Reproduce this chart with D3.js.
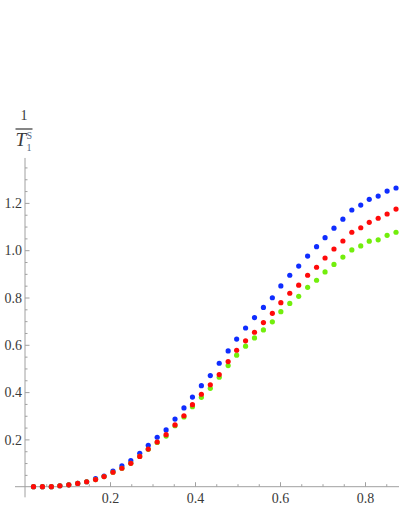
<!DOCTYPE html>
<html>
<head>
<meta charset="utf-8">
<script src="https://cdn.jsdelivr.net/npm/d3@7/dist/d3.min.js"></script>
<style>
  body { margin: 0; background: #fff; }
  svg { display: block; }
</style>
</head>
<body>
<svg id="chart" width="399" height="516"></svg>
<script>
// sample positions along the x axis
var xs = [0.020, 0.041, 0.062, 0.082, 0.103, 0.124, 0.145, 0.166, 0.186, 0.207,
          0.228, 0.249, 0.270, 0.290, 0.311, 0.332, 0.353, 0.374, 0.394, 0.415,
          0.436, 0.457, 0.478, 0.498, 0.519, 0.540, 0.561, 0.582, 0.602, 0.623,
          0.644, 0.665, 0.686, 0.706, 0.727, 0.748, 0.769, 0.790, 0.810, 0.831,
          0.852, 0.873];

var blueVals = [0, 0, 0, 0.004, 0.008, 0.014, 0.021, 0.034, 0.045, 0.066,
                0.088, 0.110, 0.141, 0.175, 0.209, 0.240, 0.286, 0.333, 0.379, 0.427,
                0.470, 0.522, 0.574, 0.624, 0.671, 0.715, 0.758, 0.799, 0.849, 0.894,
                0.933, 0.975, 1.015, 1.053, 1.093, 1.131, 1.170, 1.191, 1.215, 1.229,
                1.250, 1.263];

var greenVals = [0, 0, 0, 0.004, 0.008, 0.014, 0.021, 0.030, 0.043, 0.061,
                 0.078, 0.099, 0.128, 0.158, 0.187, 0.214, 0.258, 0.295, 0.338, 0.378,
                 0.416, 0.463, 0.512, 0.556, 0.594, 0.629, 0.663, 0.697, 0.740, 0.775,
                 0.805, 0.843, 0.873, 0.908, 0.940, 0.971, 1.001, 1.018, 1.038, 1.044,
                 1.063, 1.076];

var redVals = [0, 0, 0, 0.004, 0.008, 0.014, 0.021, 0.030, 0.043, 0.061,
               0.078, 0.099, 0.128, 0.159, 0.189, 0.220, 0.261, 0.300, 0.347, 0.391,
               0.431, 0.474, 0.529, 0.577, 0.617, 0.653, 0.694, 0.733, 0.778, 0.818,
               0.852, 0.894, 0.928, 0.967, 1.005, 1.039, 1.076, 1.095, 1.118, 1.135,
               1.153, 1.174];

var xMajor = [0.2, 0.4, 0.6, 0.8];
var xMinor = [0.05, 0.1, 0.15, 0.25, 0.3, 0.35, 0.45, 0.5, 0.55, 0.65, 0.7, 0.75, 0.85];
var yMajor = [0.2, 0.4, 0.6, 0.8, 1.0, 1.2];
var yMinor = [0.05, 0.1, 0.15, 0.25, 0.3, 0.35, 0.45, 0.5, 0.55, 0.65, 0.7, 0.75,
              0.85, 0.9, 0.95, 1.05, 1.1, 1.15, 1.25, 1.3, 1.35];

var svg = d3.select("#chart");

var x = d3.scaleLinear().domain([0, 1]).range([25, 450]);
var y = d3.scaleLinear().domain([0, 1]).range([486.7, 250.2]);

var axisColour = "#a0a0a0";
var textColour = "#3a3a3a";
var font = "'Liberation Serif', 'DejaVu Serif'";

// axis lines
svg.append("line")
  .attr("x1", x(-0.0235)).attr("x2", x(0.885))
  .attr("y1", y(0)).attr("y2", y(0))
  .attr("stroke", axisColour).attr("stroke-width", 1);
svg.append("line")
  .attr("x1", x(0)).attr("x2", x(0))
  .attr("y1", y(-0.045)).attr("y2", y(1.39))
  .attr("stroke", axisColour).attr("stroke-width", 1);

var styleAxis = function(g){
  g.attr("font-family", font);
  g.select(".domain").remove();
  g.selectAll("line").attr("stroke", axisColour);
  g.selectAll("text")
    .attr("fill", textColour)
    .attr("font-family", font)
    .attr("font-size", 14);
};

// x ticks
svg.append("g")
  .attr("transform", "translate(0," + y(0) + ")")
  .call(d3.axisBottom(x).tickValues(xMinor).tickSize(-2.5).tickFormat(""))
  .call(styleAxis);
var gx = svg.append("g")
  .attr("transform", "translate(0," + y(0) + ")")
  .call(d3.axisBottom(x).tickValues(xMajor).tickSize(-4.5).tickFormat(d3.format(".1f")))
  .call(styleAxis);
gx.selectAll("text").attr("y", 16.5).attr("dy", "0");

// y ticks
svg.append("g")
  .attr("transform", "translate(" + x(0) + ",0)")
  .call(d3.axisLeft(y).tickValues(yMinor).tickSize(-2.5).tickFormat(""))
  .call(styleAxis);
var gy = svg.append("g")
  .attr("transform", "translate(" + x(0) + ",0)")
  .call(d3.axisLeft(y).tickValues(yMajor).tickSize(-4.5).tickFormat(d3.format(".1f")))
  .call(styleAxis);
gy.selectAll("text").attr("x", -3).attr("dy", "0.34em");

// y axis label: 1 / T_1^S
var lab = svg.append("g")
  .attr("font-family", font)
  .attr("fill", textColour);
lab.append("text")
  .attr("x", 24).attr("y", 120)
  .attr("text-anchor", "middle")
  .attr("font-size", 14)
  .text("1");
lab.append("line")
  .attr("x1", 15.5).attr("x2", 32.5)
  .attr("y1", 129).attr("y2", 129)
  .attr("stroke", "#444").attr("stroke-width", 1.3);
lab.append("text")
  .attr("x", 15.5).attr("y", 146)
  .attr("font-size", 19)
  .attr("font-style", "italic")
  .text("T");
lab.append("text")
  .attr("x", 26.5).attr("y", 139)
  .attr("font-size", 10)
  .attr("fill", "#4d6585")
  .text("S");
lab.append("text")
  .attr("x", 26.5).attr("y", 151)
  .attr("font-size", 10)
  .attr("fill", "#4d6585")
  .text("1");

// points
var series = [
  { name: "blue", colour: "#0f2dff", values: blueVals },
  { name: "green", colour: "#72ee0c", values: greenVals },
  { name: "red", colour: "#ff0a0a", values: redVals }
];

series.forEach(function(s){
  svg.append("g")
    .attr("class", "dots " + s.name)
    .selectAll("circle")
    .data(s.values)
    .enter().append("circle")
      .attr("cx", function(d, i){ return x(xs[i]); })
      .attr("cy", function(d){ return y(d); })
      .attr("r", 2.6)
      .attr("fill", s.colour);
});
</script>
</body>
</html>
